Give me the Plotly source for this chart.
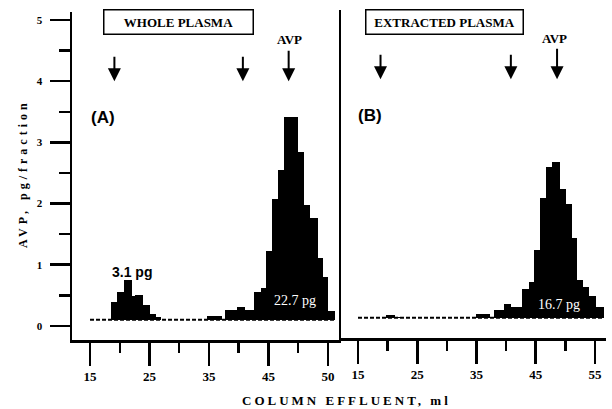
import plotly.graph_objects as go
import numpy as np

# ---------------- data ----------------
# Panel A (whole plasma): fraction start / end volume (ml) and AVP (pg/fraction)
a_start = [18.5, 19.6, 20.7, 22.0, 22.6, 23.9, 25.1, 26.1, 34.6, 37.7, 39.7, 41.1,
           42.6, 43.7, 44.6, 45.6, 46.6, 47.6, 49.9, 50.9, 52.0, 53.4, 54.2, 55.0]
a_end = [19.6, 20.7, 22.0, 22.6, 23.9, 25.1, 26.1, 27.0, 37.2, 39.7, 41.1, 42.6,
         43.7, 44.6, 45.6, 46.6, 47.6, 49.9, 50.9, 52.0, 53.4, 54.2, 55.0, 56.2]
a_value = [0.39, 0.56, 0.75, 0.49, 0.50, 0.35, 0.19, 0.15, 0.16, 0.26, 0.31, 0.26,
           0.56, 0.62, 1.22, 2.07, 2.55, 3.41, 2.85, 1.97, 1.77, 1.11, 0.80, 0.25]

# Panel B (extracted plasma)
b_start = [19.8, 21.2, 34.9, 38.0, 39.6, 40.9, 42.7, 43.9, 44.7, 45.8, 46.8, 47.8,
           49.1, 50.1, 51.1, 52.0, 53.0, 54.0, 55.2]
b_end = [21.2, 22.2, 37.3, 39.6, 40.9, 42.7, 43.9, 44.7, 45.8, 46.8, 47.8, 49.1,
         50.1, 51.1, 52.0, 53.0, 54.0, 55.2, 56.5]
b_value = [0.15, 0.12, 0.16, 0.22, 0.32, 0.27, 0.57, 0.68, 1.21, 2.05, 2.56, 2.65,
           2.21, 1.96, 1.40, 0.72, 0.61, 0.46, 0.28]

baseline = 0.1
a_base_span = [15, 56.2]
b_base_span = [15, 56.5]

# elution markers (ml)
a_markers = [19.1, 40.7, 48.4]
b_markers = [18.8, 40.8, 48.6]

x_tickvals = [15, 25, 35, 45, 55]
a_ticktext = ["15", "25", "35", "45", "50"]
b_ticktext = ["15", "25", "35", "45", "55"]
x_minor = [20, 30, 40, 50]
y_tickvals = [0, 1, 2, 3, 4, 5]
y_minor = [0.5, 1.5, 2.5, 3.5, 4.5]

a_total = "22.7 pg"
b_total = "16.7 pg"
a_small = "3.1 pg"

# ---------------- figure ----------------
W, H = 612, 409
SERIF = "Liberation Serif"
SANS = "Liberation Sans"

fig = go.Figure()


def add_panel(start, end, value, span, xa, ya):
    s = np.array(start)
    e = np.array(end)
    v = np.array(value)
    fig.add_trace(go.Scatter(x=span, y=[baseline, baseline], mode="lines",
                             line=dict(color="black", width=2, dash="4px,2px"),
                             xaxis=xa, yaxis=ya, hoverinfo="skip"))
    fig.add_trace(go.Bar(x=(s + e) / 2, y=v - baseline, base=baseline, width=e - s,
                         marker=dict(color="black", line=dict(width=0)),
                         xaxis=xa, yaxis=ya))


add_panel(a_start, a_end, a_value, a_base_span, "x", "y")
add_panel(b_start, b_end, b_value, b_base_span, "x2", "y2")

xcommon = dict(showline=True, linecolor="black", linewidth=2.5, showgrid=False,
               zeroline=False, ticks="outside", ticklen=23, tickwidth=2.5,
               tickcolor="black", tickmode="array", tickvals=x_tickvals,
               tickfont=dict(family=SERIF, size=13, color="black", weight="bold"),
               minor=dict(tickmode="array", tickvals=x_minor, ticks="outside",
                          ticklen=10, tickwidth=2.5, tickcolor="black"),
               fixedrange=True)

fig.update_layout(
    width=W, height=H, margin=dict(l=0, r=0, t=0, b=0),
    paper_bgcolor="white", plot_bgcolor="white", showlegend=False, bargap=0,
    xaxis=dict(domain=[72 / W, 341 / W], range=[11.97, 57.2], anchor="y",
               ticktext=a_ticktext, **xcommon),
    xaxis2=dict(domain=[341 / W, 606 / W], range=[12.13, 56.86], anchor="y2",
                ticktext=b_ticktext, **xcommon),
    yaxis=dict(domain=[(H - 340) / H, (H - 12) / H], range=[-0.23, 5.13], anchor="x",
               showline=True, linecolor="black", linewidth=2.5, showgrid=False,
               zeroline=False, ticks="outside", ticklen=20, tickwidth=2.5,
               tickcolor="black", tickmode="array", tickvals=y_tickvals,
               tickfont=dict(family=SERIF, size=11, color="black", weight="bold"),
               minor=dict(tickmode="array", tickvals=y_minor, ticks="outside",
                          ticklen=11, tickwidth=2.5, tickcolor="black"),
               ticklabelstandoff=5, fixedrange=True),
    yaxis2=dict(domain=[(H - 338) / H, (H - 10) / H], range=[-0.23, 5.13], anchor="x2",
                showline=True, linecolor="black", linewidth=2.5, showgrid=False,
                zeroline=False, ticks="", showticklabels=False, fixedrange=True),
)

ann = []


def paper_text(px, py, text, font, **kw):
    ann.append(dict(x=px / W, y=1 - py / H, xref="paper", yref="paper", text=text,
                    showarrow=False, font=font, xanchor="center", yanchor="middle", **kw))


box_font = dict(family=SERIF, size=13, color="black", weight="bold")
paper_text(178, 22.5, "WHOLE PLASMA", box_font, bordercolor="black", borderwidth=1.5,
           borderpad=3, width=142, height=17)
paper_text(444, 22, "EXTRACTED PLASMA", box_font, bordercolor="black", borderwidth=1.5,
           borderpad=3, width=150, height=17)
paper_text(289, 39.5, "AVP", dict(family=SERIF, size=13, color="black", weight="bold"))
paper_text(554, 38.7, "AVP", dict(family=SERIF, size=13, color="black", weight="bold"))

# arrows
for xa, ya, marks in (("x", "y", a_markers), ("x2", "y2", b_markers)):
    for i, m in enumerate(marks):
        ann.append(dict(x=m, y=4.0, xref=xa, yref=ya, text="", showarrow=True,
                        ax=0, ay=-32 if i == 2 else -26, arrowhead=2, arrowsize=1.3,
                        arrowwidth=2, arrowcolor="black"))

lab_font = dict(family=SANS, size=17, color="black", weight="bold")
ann.append(dict(x=17.2, y=3.40, xref="x", yref="y", text="(A)", showarrow=False, font=lab_font))
ann.append(dict(x=17.1, y=3.40, xref="x2", yref="y2", text="(B)", showarrow=False, font=lab_font))

ann.append(dict(x=22.06, y=0.88, xref="x", yref="y", text=a_small, showarrow=False,
                font=dict(family=SANS, size=14, color="black", weight="bold")))
ann.append(dict(x=49.5, y=0.41, xref="x", yref="y", text=a_total, showarrow=False,
                font=dict(family=SERIF, size=14, color="white")))
ann.append(dict(x=48.9, y=0.32, xref="x2", yref="y2", text=b_total, showarrow=False,
                font=dict(family=SERIF, size=14, color="white")))

# axis titles (letter-spaced)
paper_text(346, 400, '<span style="letter-spacing:3px">COLUMN EFFLUENT, ml</span>',
           dict(family=SERIF, size=13, color="black", weight="bold"))
ann.append(dict(x=23 / W, y=1 - 174 / H, xref="paper", yref="paper",
                text='<span style="letter-spacing:4px">AVP, pg/fraction</span>',
                showarrow=False, textangle=-90, xanchor="center", yanchor="middle",
                font=dict(family=SERIF, size=12, color="black", weight="bold")))

fig.update_layout(annotations=ann)

fig.write_html("out.html", config={"displayModeBar": False, "staticPlot": True},
               post_script="document.body.style.margin='0px';document.body.style.overflow='hidden';")
